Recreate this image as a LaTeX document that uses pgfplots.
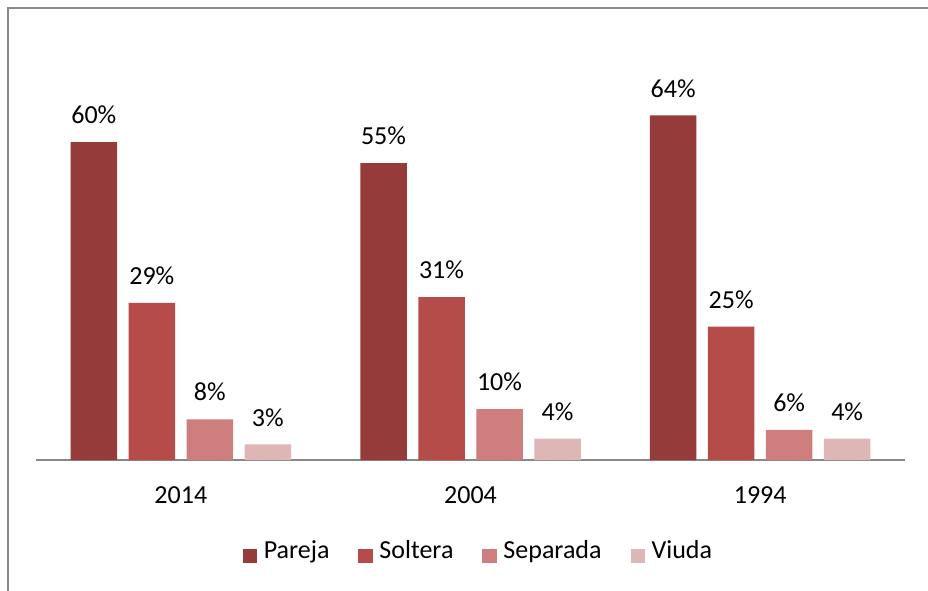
\documentclass[border=0pt]{standalone}
\usepackage{pgfplots}
\pgfplotsset{compat=1.18}
\usepackage{fontspec}
\setmainfont{Carlito}
\definecolor{cA}{HTML}{953B39}
\definecolor{cB}{HTML}{B64C4A}
\definecolor{cC}{HTML}{CD7E7D}
\definecolor{cD}{HTML}{DEB6B5}
\definecolor{framegray}{HTML}{888888}
\newcommand{\bigf}{\fontsize{26}{30}\selectfont}
\begin{document}
\begin{tikzpicture}[x=1pt,y=1pt]
\path[use as bounding box] (0,0) rectangle (928,590);
\draw[framegray, line width=1.7pt] (7.7,-10) -- (7.7,582.3) -- (940,582.3);
\begin{axis}[
  at={(36pt,130pt)}, anchor=south west,
  scale only axis, width=869pt, height=375.2pt,
  xmin=-0.5, xmax=2.5, ymin=0, ymax=70,
  axis x line=bottom, axis y line=none,
  x axis line style={-, draw=framegray, line width=2pt},
  xtick={0,1,2}, xticklabels={2014,2004,1994},
  major tick length=0pt,
  xticklabel style={anchor=base, yshift=-43.3pt, font=\bigf},
  ybar, bar width=46.5pt,
  point meta=explicit,
  nodes near coords={\pgfmathprintnumber[fixed,precision=0,assume math mode=true]{\pgfplotspointmeta}\%},
  nodes near coords style={anchor=base, yshift=18.3pt, font=\bigf, text=black},
  clip=false,
  legend columns=4,
  legend style={at={(0.508,-0.255)}, anchor=center, draw=none, fill=none, font=\bigf,
    nodes={inner xsep=0pt, inner ysep=0pt, text height=0.75em, text depth=0.25em},
    /tikz/every odd column/.append style={column sep=6.5pt},
    /tikz/every even column/.append style={column sep=29pt}},
  legend image code/.code={\fill[#1] (0pt,-6.5pt) rectangle (14.5pt,7.5pt);},
]
\addplot[fill=cA, draw=none, bar shift=-87pt] table[x=x, y=y, meta=l, row sep=\\] {
x y l \\ 0 59.3 60 \\ 1 55.4 55 \\ 2 64.3 64 \\ };
\addplot[fill=cB, draw=none, bar shift=-29pt] table[x=x, y=y, meta=l, row sep=\\] {
x y l \\ 0 29.3 29 \\ 1 30.4 31 \\ 2 24.9 25 \\ };
\addplot[fill=cC, draw=none, bar shift=29pt] table[x=x, y=y, meta=l, row sep=\\] {
x y l \\ 0 7.6 8 \\ 1 9.5 10 \\ 2 5.6 6 \\ };
\addplot[fill=cD, draw=none, bar shift=87pt] table[x=x, y=y, meta=l, row sep=\\] {
x y l \\ 0 2.9 3 \\ 1 4.0 4 \\ 2 4.0 4 \\ };
\legend{Pareja,Soltera,Separada,Viuda}
\end{axis}
\end{tikzpicture}
\end{document}
